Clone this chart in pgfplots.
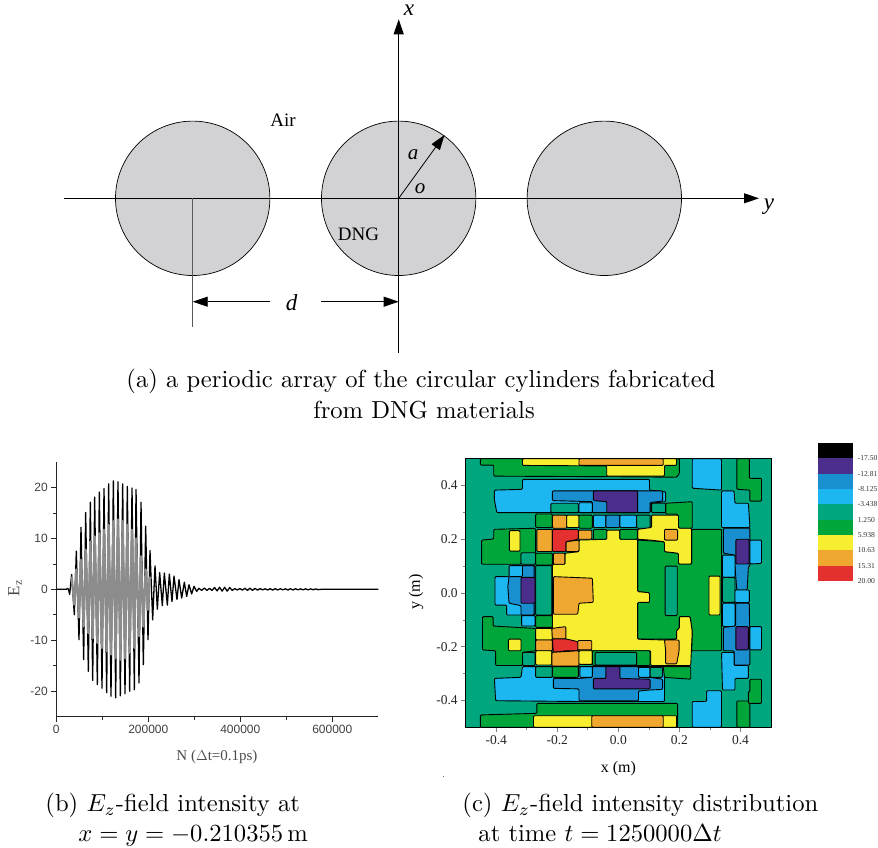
\documentclass[border=0pt]{standalone}
\usepackage{fontspec}
\usepackage{pgfplots}
\pgfplotsset{compat=1.18}
\usetikzlibrary{arrows.meta}
\newfontfamily\tnr{Liberation Serif}
\newfontfamily\ari{Liberation Sans}
\definecolor{cK}{HTML}{000000}
\definecolor{cP}{HTML}{4B2E8C}
\definecolor{cB}{HTML}{1A8FD0}
\definecolor{cL}{HTML}{1CB6F0}
\definecolor{cT}{HTML}{00A67E}
\definecolor{cG}{HTML}{00A63A}
\definecolor{cY}{HTML}{F7EE2F}
\definecolor{cO}{HTML}{EFA72F}
\definecolor{cR}{HTML}{E4312F}
\definecolor{cyl}{HTML}{D2D2D4}
\newcommand{\reg}[2]{\addplot[fill=#1,draw=black,line width=0.9pt,line join=round,rounded corners=1pt] coordinates {#2} -- cycle;}
\begin{document}
\begin{tikzpicture}[x=1pt,y=1pt]
\path (0,0) rectangle (878,848);
% ---------- panel (a): coordinates are picture pixels
\begin{axis}[at={(0,0)},anchor=south west,scale only axis,width=878pt,height=848pt,
  xmin=0,xmax=878,ymin=0,ymax=848,y dir=reverse,hide axis,clip=false]
\foreach \cx in {192.7,398.7,604.3}{
  \edef\tmp{\noexpand\draw[fill=cyl,draw=black,line width=0.7pt] (axis cs:\cx,198.3) circle [radius=77.2];}\tmp
}
\addplot[black,line width=0.8pt,-{Triangle[length=15pt,width=10pt]}] coordinates {(64,198.3) (759,198.3)};
\addplot[black,line width=0.8pt,-{Triangle[length=15pt,width=10pt]}] coordinates {(398.7,352.7) (398.7,19.3)};
\addplot[black,line width=0.8pt,-{Triangle[length=15pt,width=10pt]}] coordinates {(398.7,198.3) (444.5,135)};
\addplot[black!65,line width=0.9pt] coordinates {(192.7,198.3) (192.7,327)};
\addplot[black,line width=0.8pt,-{Triangle[length=15pt,width=10pt]}] coordinates {(270,301.7) (192.7,301.7)};
\addplot[black,line width=0.8pt,-{Triangle[length=15pt,width=10pt]}] coordinates {(321,301.7) (398.7,301.7)};
\addplot[black!60,line width=0.5pt] coordinates {(443,775.5) (443,777)};
\node[font=\tnr\fontsize{19}{19}\selectfont] at (axis cs:283,120.5) {Air};
\node[font=\tnr\fontsize{19}{19}\selectfont] at (axis cs:358.5,234.5) {DNG};
\node[anchor=base,inner sep=0,font=\tnr\itshape\fontsize{23}{23}\selectfont] at (axis cs:409,16) {x};
\node[font=\tnr\itshape\fontsize{23}{23}\selectfont] at (axis cs:769,207) {y};
\node[font=\tnr\itshape\fontsize{21}{21}\selectfont] at (axis cs:413,155) {a};
\node[font=\tnr\itshape\fontsize{21}{21}\selectfont] at (axis cs:420,188.5) {o};
\node[font=\tnr\itshape\fontsize{23}{23}\selectfont] at (axis cs:291.7,303) {d};
\node[anchor=base,inner sep=0,scale=2.46] at (axis cs:421,387.5) {(a) a periodic array of the circular cylinders fabricated};
\node[anchor=base,inner sep=0,scale=2.46] at (axis cs:424,418.5) {from DNG materials};
\node[anchor=base west,inner sep=0,scale=2.46] at (axis cs:45,811.5) {(b) $E_z$-field intensity at};
\node[anchor=base west,inner sep=0,scale=2.46] at (axis cs:78,841.5) {$x=y=-0.210355\,\mathrm{m}$};
\node[anchor=base west,inner sep=0,scale=2.46] at (axis cs:462,811.5) {(c) $E_z$-field intensity distribution};
\node[anchor=base west,inner sep=0,scale=2.46] at (axis cs:478,841.5) {at time $t=1250000\Delta t$};
\end{axis}
% ---------- panel (b)
\begin{axis}[at={(56.3pt,131.3pt)},anchor=south west,scale only axis,width=322pt,height=254.7pt,
  xmin=0,xmax=700000,ymin=-25,ymax=25,
  axis lines=left,axis line style={-,black!85,line width=0.8pt},
  xtick={0,200000,400000,600000},ytick={-20,-10,0,10,20},minor x tick num=1,minor y tick num=1,
  tick align=outside,tick pos=left,
  major tick length=5pt,minor tick length=3pt,
  tick style={black!85,line width=0.7pt},
  scaled ticks=false,
  /pgf/number format/assume math mode=true,
  /pgf/number format/fixed,
  /pgf/number format/set thousands separator={},
  tick label style={font=\ari\fontsize{12}{12}\selectfont,text=black!75},
  xlabel={N ($\Delta$t=0.1ps)},
  ylabel={E\textsubscript{z}},
  xlabel style={font=\tnr\fontsize{15}{15}\selectfont,text=black!70,at={(axis description cs:0.499,-0.157)},anchor=center},
  ylabel style={font=\tnr\fontsize{17}{17}\selectfont,text=black!70,at={(axis description cs:-0.128,0.505)},anchor=center,rotate=0},
  clip=false]
\addplot[black,line width=1.3pt,line join=round] coordinates {
(0,0)(22000,0)(24500,.2)(26500,0)(29050,-1)(33400,2.9)(39200,-5)(43550,7.5)(49350,-9.9)(53700,12.2)
(59500,-13.8)(63850,15.1)(69650,-16.1)(74000,17.1)(79100,-17.9)(83400,18.1)(89200,-18.7)(93560,19.1)
(99350,-19.4)(103700,19.8)(109500,-20.3)(113850,20.7)(118900,-21)(124000,21.3)(129070,-21.3)(134100,21.1)
(139200,-20.9)(144300,20.7)(149350,-20.5)(154400,20.2)(159500,-20)(164600,19.9)(169650,-19.7)(173300,19.6)
(179800,-18.4)(184150,17.1)(189200,-14.8)(194300,12.4)(199350,-9.9)(203700,7.6)(209500,-6)(214570,4.6)
(219650,-3.9)(224700,3.3)(230500,-3.2)(234860,3.2)(241400,-3.1)(245730,3)(251500,-2.4)(255880,2.6)
(262400,-2)(266750,1.9)(272550,-1.7)(278350,1.4)(283400,-1.4)(288500,.9)(294300,-.9)(299400,.6)(305200,-.4)
(310000,.2)(316000,-.2)(322000,.25)(327500,-.2)(333000,.2)(338500,-.2)(344000,.35)(349500,-.3)(355000,.4)
(360500,-.35)(366000,.4)(371500,-.35)(377000,.35)(382500,-.2)(388000,.15)(393500,-.12)(399000,.15)
(404500,-.15)(410000,.2)(415500,-.2)(421000,.22)(426500,-.2)(432000,.2)(437500,-.15)(443000,.15)
(448500,-.1)(454000,.1)(459500,-.12)(465000,.12)(470500,-.14)(476000,.14)(481500,-.12)(487000,.12)
(492500,-.1)(498000,.1)(503500,-.12)(509000,.12)(514500,-.12)(520000,.12)(525500,-.1)(531000,.1)
(536500,-.1)(542000,.1)(547500,-.1)(553000,.1)(558500,-.08)(564000,.08)(569500,-.06)(575000,0)(700000,0)};
\addplot[black!45,line width=2.3pt,line join=round] coordinates {
(33400,2.5)(39200,-3)(43550,3.9)(49350,-5.5)(53700,5.8)(59500,-7.3)(63850,7.8)(69650,-8.6)(74000,9.4)
(79100,-9.6)(83400,10.4)(89200,-10.5)(93560,11)(99350,-11.5)(103700,11.7)(109500,-12.2)(113850,12.7)
(118900,-12.8)(124000,13.4)(129070,-13.5)(134100,13.7)(139200,-13.8)(144300,13.4)(149350,-13.5)
(154400,12.7)(159500,-12.5)(164600,11.7)(169650,-11.5)(173300,10)(179800,-9.2)(184150,6.5)(189200,-7.3)
(194300,3.9)(199350,-4)(203700,2.5)};
\end{axis}
% ---------- panel (c)
\begin{axis}[at={(465.7pt,120.7pt)},anchor=south west,scale only axis,width=305.3pt,height=268.6pt,
  xmin=-0.5,xmax=0.5,ymin=-0.5,ymax=0.5,
  xtick={-0.4,-0.2,0,0.2,0.4},ytick={-0.4,-0.2,0,0.2,0.4},minor x tick num=1,minor y tick num=1,
  tick align=outside,tick pos=left,axis line style={line width=0.8pt},
  major tick length=4.5pt,minor tick length=2.5pt,tick style={line width=0.7pt},
  /pgf/number format/assume math mode=true,
  /pgf/number format/fixed,/pgf/number format/fixed zerofill,/pgf/number format/precision=1,
  tick label style={font=\tnr\fontsize{13.5}{13.5}\selectfont,text=black!85},
  xlabel={x (m)},ylabel={y (m)},
  xlabel style={font=\tnr\fontsize{16}{16}\selectfont,at={(axis description cs:0.5,-0.155)},anchor=center},
  ylabel style={font=\tnr\fontsize{16}{16}\selectfont,at={(axis description cs:-0.163,0.504)},anchor=center},
  axis on top]
\addplot[fill=cT,draw=none] coordinates {(-.5,-.5)(.5,-.5)(.5,.5)(-.5,.5)} -- cycle;
\reg{cG}{(-.452,.5)(.2,.5)(.2,.445)(.191,.431)(-.038,.433)(-.408,.435)(-.408,.476)(-.452,.476)}
\reg{cY}{(-.314,.5)(.191,.5)(.191,.475)(.151,.475)(.151,.435)(-.038,.435)(-.038,.473)(-.314,.475)}
\reg{cO}{(-.129,.5)(.147,.5)(.147,.475)(-.129,.475)}
\reg{cL}{(.242,.5)(.338,.5)(.338,.383)(.242,.39)}
\reg{cG}{(.388,.5)(.429,.5)(.429,.427)(.469,.427)(.469,.342)(.431,.342)(.431,.383)(.388,.386)}
\reg{cL}{(-.314,.423)(.102,.423)(.102,.383)(.155,.377)(.155,.34)(.104,.334)(.104,.299)(-.398,.299)(-.406,.346)(-.406,.383)(-.314,.386)}
\reg{cB}{(-.216,.38)(.145,.38)(.145,.342)(.104,.337)(.104,.299)(-.085,.299)(-.085,.34)(-.216,.344)}
\reg{cP}{(-.082,.38)(.063,.38)(.063,.299)(-.038,.299)(-.038,.34)(-.082,.344)}
\reg{cT}{(-.221,.334)(-.131,.334)(-.131,.299)(-.221,.299)}
\reg{cL}{(-.129,.336)(-.085,.336)(-.085,.299)(-.129,.299)}
\reg{cG}{(.155,.334)(.242,.34)(.242,.241)(.197,.241)(.194,.294)(.155,.294)}
\reg{cT}{(.109,.334)(.155,.334)(.155,.299)(.109,.299)}
\reg{cG}{(-.408,.237)(-.271,.241)(-.271,.148)(-.319,.148)(-.319,.107)(-.448,.107)(-.448,.197)(-.408,.201)}
\reg{cY}{(-.357,.232)(-.322,.232)(-.322,.156)(-.357,.156)}
\reg{cT}{(-.319,.15)(-.271,.15)(-.271,.107)(-.319,.107)}
\reg{cG}{(-.271,.294)(-.216,.294)(-.216,.244)(-.271,.244)}
\reg{cG}{(-.271,.148)(-.216,.148)(-.216,.104)(-.271,.104)}
\reg{cO}{(-.216,.29)(-.169,.29)(-.169,.241)(-.216,.241)}
\reg{cY}{(-.169,.29)(-.129,.29)(-.129,.244)(-.169,.244)}
\reg{cG}{(-.129,.29)(-.085,.29)(-.085,.241)(-.129,.241)}
\reg{cL}{(-.082,.29)(-.041,.29)(-.041,.244)(-.082,.244)}
\reg{cB}{(-.041,.29)(.005,.29)(.005,.244)(-.041,.244)}
\reg{cL}{(.005,.29)(.06,.29)(.06,.244)(.005,.244)}
\reg{cT}{(.06,.29)(.104,.29)(.104,.241)(.06,.241)}
\reg{cG}{(.063,.197)(.151,.191)(.151,.154)(.197,.148)(.197,.108)(.24,.108)(.24,.237)(.338,.237)(.338,-.215)(.24,-.215)(.242,-.144)(.235,-.088)(.2,-.088)(.2,-.132)(.191,-.138)(.191,-.172)(.063,-.172)(.063,-.035)(.102,-.035)(.102,.001)(.063,.005)}
\reg{cY}{(.109,.29)(.197,.29)(.197,.241)(.24,.241)(.24,.108)(.197,.108)(.197,.148)(.151,.154)(.151,.191)(.104,.197)(.063,.2)(.063,.237)(.109,.244)}
\reg{cO}{(.151,.237)(.194,.237)(.194,.197)(.151,.197)}
\reg{cT}{(.153,.1)(.193,.1)(.193,-.084)(.153,-.084)}
\reg{cY}{(.297,.063)(.333,.063)(.333,-.082)(.297,-.082)}
\reg{cY}{(-.216,.107)(-.175,.107)(-.175,.148)(-.129,.154)(-.129,.197)(-.038,.2)(-.038,.234)(.005,.234)(.005,.2)(.063,.2)(.063,.005)(.102,.001)(.102,-.035)(.063,-.035)(.063,-.172)(.151,-.175)(.191,-.172)(.191,-.138)(.2,-.132)(.2,-.088)(.235,-.088)(.242,-.144)(.237,-.27)(.106,-.27)(.106,-.215)(-.216,-.215)(-.216,-.123)}
\reg{cG}{(-.082,.237)(-.038,.237)(-.038,.2)(-.082,.2)}
\reg{cG}{(.005,.237)(.063,.237)(.063,.2)(.005,.2)}
\reg{cO}{(-.213,.061)(-.085,.055)(-.082,-.035)(-.129,-.038)(-.133,-.079)(-.213,-.079)}
\reg{cO}{(-.267,.237)(-.216,.237)(-.216,.154)(-.267,.154)}
\reg{cO}{(-.131,.234)(-.087,.234)(-.087,.2)(-.131,.2)}
\reg{cO}{(-.172,.191)(-.129,.197)(-.129,.154)(-.172,.154)}
\reg{cO}{(-.213,.148)(-.175,.148)(-.175,.107)(-.213,.107)}
\reg{cR}{(-.216,.237)(-.131,.237)(-.131,.2)(-.172,.191)(-.172,.154)(-.216,.154)}
\reg{cT}{(-.271,.102)(-.218,.102)(-.218,-.082)(-.271,-.082)}
\reg{cL}{(-.358,.102)(-.273,.102)(-.273,-.082)(-.366,-.082)(-.366,-.045)(-.404,-.045)(-.404,.061)(-.358,.061)}
\reg{cB}{(-.358,.061)(-.314,.061)(-.314,.102)(-.276,.102)(-.276,-.082)(-.319,-.082)(-.319,-.047)(-.358,-.038)(-.362,.024)}
\reg{cP}{(-.319,.058)(-.273,.058)(-.273,-.038)(-.319,-.038)}
\reg{cL}{(-.317,-.084)(-.273,-.084)(-.273,-.123)(-.317,-.123)}
\reg{cG}{(-.271,-.084)(-.216,-.084)(-.216,-.128)(-.271,-.128)}
\reg{cG}{(-.445,-.088)(-.41,-.088)(-.41,-.123)(-.271,-.132)(-.271,-.215)(-.314,-.221)(-.314,-.27)(-.402,-.27)(-.402,-.215)(-.445,-.212)}
\reg{cY}{(-.36,-.172)(-.319,-.172)(-.319,-.215)(-.36,-.215)}
\reg{cT}{(-.314,-.221)(-.273,-.221)(-.273,-.27)(-.314,-.27)}
\reg{cY}{(-.271,-.132)(-.216,-.132)(-.216,-.175)(-.271,-.175)}
\reg{cO}{(-.271,-.175)(-.216,-.175)(-.216,-.215)(-.271,-.215)}
\reg{cY}{(-.271,-.215)(-.218,-.215)(-.218,-.268)(-.271,-.268)}
\reg{cO}{(-.218,-.132)(-.172,-.125)(-.172,-.172)(-.216,-.172)}
\reg{cO}{(-.133,-.177)(-.087,-.177)(-.087,-.212)(-.133,-.212)}
\reg{cR}{(-.216,-.171)(-.172,-.171)(-.133,-.181)(-.133,-.215)(-.172,-.215)(-.213,-.221)}
\reg{cO}{(-.218,-.221)(-.129,-.215)(-.129,-.272)(-.218,-.272)}
\reg{cY}{(-.129,-.215)(-.085,-.215)(-.085,-.266)(-.129,-.266)}
\reg{cG}{(-.085,-.215)(.104,-.215)(.104,-.27)(-.085,-.27)}
\reg{cT}{(-.076,-.221)(.06,-.221)(.06,-.268)(-.076,-.268)}
\reg{cO}{(.151,-.175)(.199,-.175)(.199,-.215)(.191,-.264)(.155,-.264)(.155,-.215)}
\reg{cL}{(-.314,-.274)(.151,-.274)(.151,-.404)(-.129,-.404)(-.402,-.401)(-.406,-.318)(-.319,-.314)}
\reg{cT}{(-.271,-.274)(-.216,-.274)(-.216,-.314)(-.271,-.314)}
\reg{cG}{(-.216,-.274)(-.131,-.274)(-.131,-.314)(-.216,-.314)}
\reg{cB}{(-.213,-.318)(-.129,-.318)(-.085,-.314)(-.085,-.274)(.066,-.274)(.066,-.314)(.104,-.314)(.145,-.321)(.145,-.359)(.104,-.361)(.066,-.365)(.066,-.401)(-.129,-.401)(-.129,-.357)(-.213,-.355)}
\reg{cL}{(-.126,-.274)(-.085,-.274)(-.085,-.314)(-.126,-.314)}
\reg{cL}{(.066,-.277)(.104,-.277)(.104,-.314)(.066,-.314)}
\reg{cT}{(.104,-.277)(.145,-.277)(.145,-.314)(.104,-.314)}
\reg{cP}{(-.041,-.274)(.005,-.274)(.005,-.318)(.104,-.321)(.104,-.357)(-.082,-.357)(-.082,-.318)(-.041,-.318)}
\reg{cG}{(.147,-.274)(.237,-.274)(.237,-.321)(.151,-.314)}
\reg{cG}{(-.267,-.411)(.194,-.411)(.194,-.5)(-.452,-.5)(-.452,-.454)(-.267,-.448)}
\reg{cY}{(-.278,-.457)(.191,-.457)(.191,-.5)(-.278,-.5)}
\reg{cO}{(-.087,-.457)(.147,-.457)(.147,-.5)(-.087,-.5)}
\reg{cL}{(.242,-.404)(.289,-.404)(.289,-.364)(.338,-.364)(.338,-.5)(.242,-.5)}
\reg{cG}{(.388,-.402)(.431,-.402)(.431,-.5)(.388,-.5)}
\reg{cG}{(.431,-.321)(.469,-.321)(.469,-.411)(.426,-.411)(.426,-.367)(.431,-.367)}
\reg{cL}{(.338,.38)(.379,.38)(.382,.334)(.426,.334)(.431,.244)(.338,.244)}
\reg{cB}{(.344,.241)(.431,.241)(.431,.1)(.426,.1)(.422,.011)(.388,.011)(.382,.1)(.382,.141)(.344,.148)}
\reg{cL}{(.431,.197)(.469,.197)(.469,.11)(.431,.108)}
\reg{cP}{(.385,.2)(.428,.2)(.428,.108)(.385,.108)}
\reg{cL}{(.341,.141)(.382,.141)(.382,.058)(.341,.058)}
\reg{cT}{(.341,.058)(.382,.058)(.382,-.035)(.341,-.035)}
\reg{cL}{(.382,.011)(.429,.011)(.429,-.036)(.382,-.036)}
\reg{cL}{(.341,-.038)(.382,-.038)(.382,-.125)(.341,-.125)}
\reg{cB}{(.384,-.038)(.429,-.038)(.431,-.268)(.379,-.268)(.379,-.215)(.344,-.215)(.344,-.128)(.384,-.123)}
\reg{cP}{(.385,-.125)(.426,-.125)(.426,-.212)(.385,-.212)}
\reg{cL}{(.431,-.125)(.469,-.125)(.469,-.212)(.431,-.212)}
\reg{cL}{(.338,-.221)(.379,-.221)(.379,-.27)(.426,-.27)(.426,-.318)(.382,-.318)(.382,-.361)(.341,-.361)}
\end{axis}
% ---------- colour scale
\begin{axis}[at={(818pt,267pt)},anchor=south west,scale only axis,width=35pt,height=138pt,
  xmin=0,xmax=1,ymin=0,ymax=9,y dir=reverse,hide axis,clip=false]
\addplot[fill=cK,draw=none] coordinates {(0,0)(1,0)(1,1)(0,1)} -- cycle;
\addplot[fill=cP,draw=none] coordinates {(0,1)(1,1)(1,2)(0,2)} -- cycle;
\addplot[fill=cB,draw=none] coordinates {(0,2)(1,2)(1,3)(0,3)} -- cycle;
\addplot[fill=cL,draw=none] coordinates {(0,3)(1,3)(1,4)(0,4)} -- cycle;
\addplot[fill=cT,draw=none] coordinates {(0,4)(1,4)(1,5)(0,5)} -- cycle;
\addplot[fill=cG,draw=none] coordinates {(0,5)(1,5)(1,6)(0,6)} -- cycle;
\addplot[fill=cY,draw=none] coordinates {(0,6)(1,6)(1,7)(0,7)} -- cycle;
\addplot[fill=cO,draw=none] coordinates {(0,7)(1,7)(1,8)(0,8)} -- cycle;
\addplot[fill=cR,draw=none] coordinates {(0,8)(1,8)(1,9)(0,9)} -- cycle;
\foreach \yy/\lab in {1/-17.50,2/-12.81,3/-8.125,4/-3.438,5/1.250,6/5.938,7/10.63,8/15.31,9/20.00}{
  \edef\tmp{\noexpand\node[anchor=west,inner sep=0,font=\noexpand\tnr\noexpand\fontsize{7.6}{7.6}\noexpand\selectfont,text=black!80] at (axis cs:1.13,\yy) {\lab};}\tmp
}
\end{axis}
\end{tikzpicture}
\end{document}
